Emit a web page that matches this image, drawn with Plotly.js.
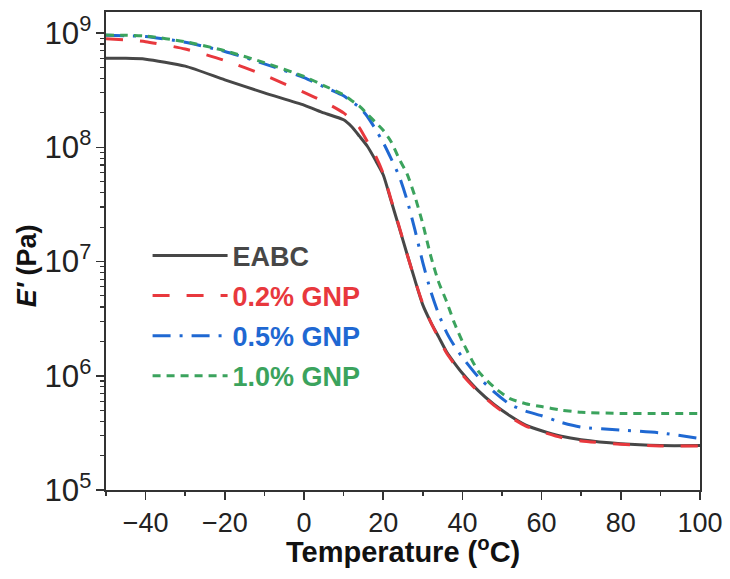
<!DOCTYPE html>
<html>
<head>
<meta charset="utf-8">
<script src="https://cdn.plot.ly/plotly-3.0.1.min.js"></script>
<style>
  html, body { margin: 0; padding: 0; background: #fff; }
  #chart { width: 730px; height: 579px; }
</style>
</head>
<body>
<div id="chart"></div>
<script>
  // temperature in degC, storage modulus in Pa
  const temps = [-50, -45, -40, -30, -20, -10, 0, 5, 10, 12, 14, 16, 18, 20, 22, 24, 26, 28, 30,
    32, 34, 36, 38, 40, 44, 48, 52, 56, 60, 65, 70, 80, 90, 100];

  const eabc = [6.0e8, 6.0e8, 5.9e8, 5.13e8, 3.89e8, 2.99e8, 2.34e8, 2.0e8, 1.74e8, 1.52e8, 1.25e8,
    1.02e8, 7.76e7, 5.75e7, 3.4e7, 2.0e7, 1.17e7, 6.9e6, 4.17e6, 2.95e6, 2.19e6, 1.62e6, 1.29e6,
    1.05e6, 7.4e5, 5.6e5, 4.47e5, 3.7e5, 3.3e5, 2.95e5, 2.75e5, 2.54e5, 2.45e5, 2.45e5];

  const gnp02 = [8.9e8, 8.7e8, 8.4e8, 7.24e8, 5.75e8, 4.27e8, 3.02e8, 2.51e8, 2.0e8, 1.74e8, 1.48e8,
    1.12e8, 8.5e7, 5.9e7, 3.47e7, 2.04e7, 1.17e7, 6.9e6, 4.27e6, 2.95e6, 2.14e6, 1.58e6, 1.26e6,
    1.02e6, 7.24e5, 5.5e5, 4.37e5, 3.63e5, 3.24e5, 2.88e5, 2.69e5, 2.51e5, 2.43e5, 2.43e5];

  const gnp05 = [9.55e8, 9.45e8, 9.33e8, 8.3e8, 6.9e8, 5.37e8, 4.07e8, 3.39e8, 2.82e8, 2.51e8, 2.24e8,
    1.86e8, 1.45e8, 1.1e8, 7.94e7, 5.62e7, 3.47e7, 1.9e7, 9.77e6, 5.5e6, 3.47e6, 2.4e6, 1.82e6,
    1.45e6, 9.77e5, 7.24e5, 5.62e5, 4.9e5, 4.47e5, 3.9e5, 3.55e5, 3.35e5, 3.16e5, 2.82e5];

  const gnp10 = [9.6e8, 9.55e8, 9.4e8, 8.4e8, 7.0e8, 5.5e8, 4.17e8, 3.47e8, 2.88e8, 2.57e8, 2.29e8,
    1.95e8, 1.66e8, 1.41e8, 1.12e8, 7.94e7, 5.89e7, 3.72e7, 2.14e7, 1.12e7, 6.6e6, 4.47e6, 2.88e6,
    2.0e6, 1.1e6, 7.94e5, 6.31e5, 5.69e5, 5.37e5, 5.0e5, 4.79e5, 4.68e5, 4.68e5, 4.68e5];

  const seriesNames = ["EABC", "0.2% GNP", "0.5% GNP", "1.0% GNP"];

  const styles = [
    { color: "#474747", dash: "solid" },
    { color: "#e8383d", dash: "17px,17px" },
    { color: "#1f68d2", dash: "18px,9px,3px,9px" },
    { color: "#3ba35d", dash: "8px,6px" },
  ];

  const FONT = "Liberation Sans, Arial, sans-serif";

  const traces = [eabc, gnp02, gnp05, gnp10].map((vals, i) => ({
    x: temps,
    y: vals,
    name: seriesNames[i],
    legendgroup: "g" + i,
    type: "scatter",
    mode: "lines",
    line: { color: styles[i].color, width: 3, dash: styles[i].dash, shape: "spline", smoothing: 0.6 },
  }));

  const axisCommon = {
    showline: true,
    linecolor: "#333",
    linewidth: 1.6,
    mirror: true,
    ticks: "outside",
    ticklen: 8,
    tickwidth: 1.5,
    tickcolor: "#333",
    showgrid: false,
    zeroline: false,
  };

  const layout = {
    width: 730,
    height: 579,
    margin: { l: 106, r: 30, t: 12, b: 89 },
    paper_bgcolor: "#fff",
    plot_bgcolor: "#fff",
    showlegend: true,
    legend: {
      x: 0.07, y: 0.541, xanchor: "left", yanchor: "top",
      bgcolor: "rgba(0,0,0,0)",
      traceorder: "grouped",
      tracegroupgap: 2,
      itemwidth: 75,
      font: { family: FONT, size: 27 },
    },
    xaxis: Object.assign({}, axisCommon, {
      range: [-50, 100],
      dtick: 20,
      tick0: 0,
      tickfont: { family: FONT, size: 27, color: "#222" },
      minor: { dtick: 10, ticks: "outside", ticklen: 4, tickwidth: 1.5, tickcolor: "#333" },
    }),
    yaxis: Object.assign({}, axisCommon, {
      type: "log",
      range: [5, 9.184],
      dtick: 1,
      exponentformat: "power",
      tickfont: { family: FONT, size: 25, color: "#222" },
      minor: { dtick: "D1", ticks: "outside", ticklen: 4, tickwidth: 1.2, tickcolor: "#333" },
    }),
    annotations: [
      {
        text: "<b><i>E'</i> (Pa)</b>",
        xref: "paper", yref: "paper",
        x: -0.133, y: 0.47,
        xanchor: "center", yanchor: "middle",
        textangle: -90,
        showarrow: false,
        font: { family: FONT, size: 27, color: "#111" },
      },
      {
        text: "<b>Temperature (<sup>o</sup>C)</b>",
        xref: "paper", yref: "paper",
        x: 0.5, y: -0.125,
        xanchor: "center", yanchor: "middle",
        showarrow: false,
        font: { family: FONT, size: 29, color: "#111" },
      },
    ],
  };

  Plotly.newPlot("chart", traces, layout, { displayModeBar: false, staticPlot: true }).then(() => {
    // colour each legend label like its curve
    document.querySelectorAll(".legend .traces").forEach((el, i) => {
      const t = el.querySelector("text.legendtext");
      if (t) {
        t.style.fill = styles[i].color;
        t.style.fontWeight = "bold";
      }
    });
  });
</script>
</body>
</html>
